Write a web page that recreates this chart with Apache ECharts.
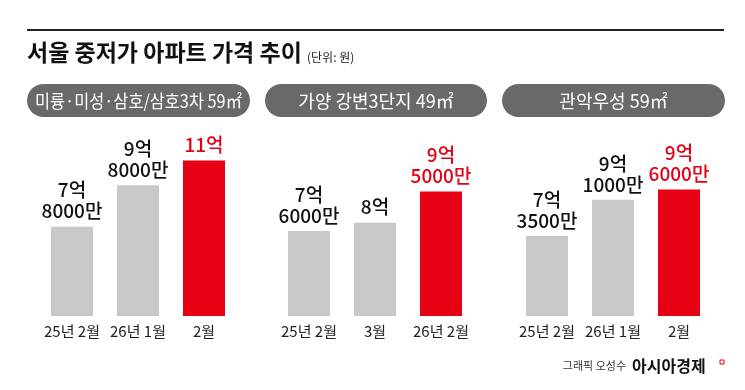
<!DOCTYPE html>
<html>
<head>
<meta charset="utf-8">
<script src="https://cdn.jsdelivr.net/npm/echarts@6/dist/echarts.min.js"></script>
<style>html,body{margin:0;padding:0;background:#fff;}#c{width:745px;height:390px;}</style>
</head>
<body>
<div id="c"></div>
<script>
const titleText = '서울 중저가 아파트 가격 추이';
const unitText = '(단위: 원)';
const panelTitles = ['미륭·미성·삼호/삼호3차 59㎡', '가양 강변3단지 49㎡', '관악우성 59㎡'];
const categories1 = ['25년 2월', '26년 1월', '2월'];
const categories2 = ['25년 2월', '3월', '26년 2월'];
const categories3 = ['25년 2월', '26년 1월', '2월'];
const values1 = [7.8, 9.8, 11];
const values2 = [7.6, 8.0, 9.5];
const values3 = [7.35, 9.1, 9.6];
const creditText = '그래픽 오성수';
const brandText = '아시아경제';

const FONT = '"Noto Sans CJK KR", "Noto Sans", sans-serif';
const GRAY = '#c8c8c8';
const RED = '#e50014';
const PILL = '#696969';

function fmt(v) {
  const eok = Math.floor(v + 1e-9);
  const man = Math.round((v - eok) * 10000);
  return man > 0 ? eok + '억\n' + man + '만' : eok + '억';
}

const measureCtx = document.createElement('canvas').getContext('2d');
function fitScale(text, size, maxW) {
  measureCtx.font = size + 'px "Noto Sans CJK KR"';
  const w = measureCtx.measureText(text).width;
  return Math.min(1, maxW / w);
}

const chart = echarts.init(document.getElementById('c'), null, {renderer: 'canvas'});

const panels = [
  {cats: categories1, vals: values1, left: 39, pill: [27, 250]},
  {cats: categories2, vals: values2, left: 276, pill: [265, 487]},
  {cats: categories3, vals: values3, left: 514, pill: [502, 725]}
];

const grids = [], xAxes = [], yAxes = [], series = [];
panels.forEach((p, i) => {
  grids.push({left: p.left, width: 198, top: 150, bottom: 74});
  xAxes.push({
    type: 'category', gridIndex: i, data: p.cats,
    axisLine: {show: false}, axisTick: {show: false},
    axisLabel: {interval: 0, fontSize: 15, color: '#222', margin: 8, fontFamily: FONT}
  });
  yAxes.push({type: 'value', gridIndex: i, min: 3.5, max: 11.5, show: false, splitLine: {show: false}});
  series.push({
    type: 'bar', xAxisIndex: i, yAxisIndex: i, barWidth: 42,
    data: p.vals.map((v, j) => {
      const last = j === p.vals.length - 1;
      return {
        value: v,
        itemStyle: {color: last ? RED : GRAY},
        label: {color: last ? RED : '#111'}
      };
    }),
    label: {
      show: true, position: 'top', distance: 5,
      fontSize: 19, fontWeight: 500, lineHeight: 21, fontFamily: FONT,
      formatter: (d) => fmt(d.value)
    },
    emphasis: {disabled: true},
    animation: false
  });
});

const graphics = [
  {type: 'line', shape: {x1: 27, y1: 30, x2: 724, y2: 30}, style: {stroke: '#222', lineWidth: 2}},
  {type: 'text', x: 27, y: 52, style: {text: titleText, fontSize: 23, fontWeight: 'bold', fontFamily: FONT, fill: '#111', textVerticalAlign: 'middle'}},
  {type: 'text', x: 307, y: 57.5, style: {text: unitText, fontSize: 12, fontFamily: FONT, fill: '#222', textVerticalAlign: 'middle'}},
  {type: 'text', x: 626, y: 366, style: {text: creditText, fontSize: 11, fontFamily: FONT, fill: '#333', textAlign: 'right', textVerticalAlign: 'middle'}},
  {type: 'text', x: 632, y: 366, style: {text: brandText, fontSize: 16, fontWeight: 'bold', fontFamily: FONT, fill: '#111', textVerticalAlign: 'middle'}},
  {type: 'rect', shape: {x: 720, y: 360, width: 4, height: 4}, style: {fill: 'none', stroke: RED, lineWidth: 1}}
];
panels.forEach((p, i) => {
  const x0 = p.pill[0], x1 = p.pill[1];
  graphics.push({type: 'rect', shape: {x: x0, y: 84, width: x1 - x0, height: 33, r: 16.5}, style: {fill: PILL}});
  const sx = fitScale(panelTitles[i], 18, x1 - x0 - 16);
  graphics.push({
    type: 'text', x: (x0 + x1) / 2, y: 101, scaleX: sx,
    style: {text: panelTitles[i], fontSize: 18, fontFamily: FONT, fill: '#fff', textAlign: 'center', textVerticalAlign: 'middle'}
  });
});

chart.setOption({
  animation: false,
  textStyle: {fontFamily: FONT},
  grid: grids, xAxis: xAxes, yAxis: yAxes, series: series,
  graphic: {elements: graphics}
});
</script>
</body>
</html>
